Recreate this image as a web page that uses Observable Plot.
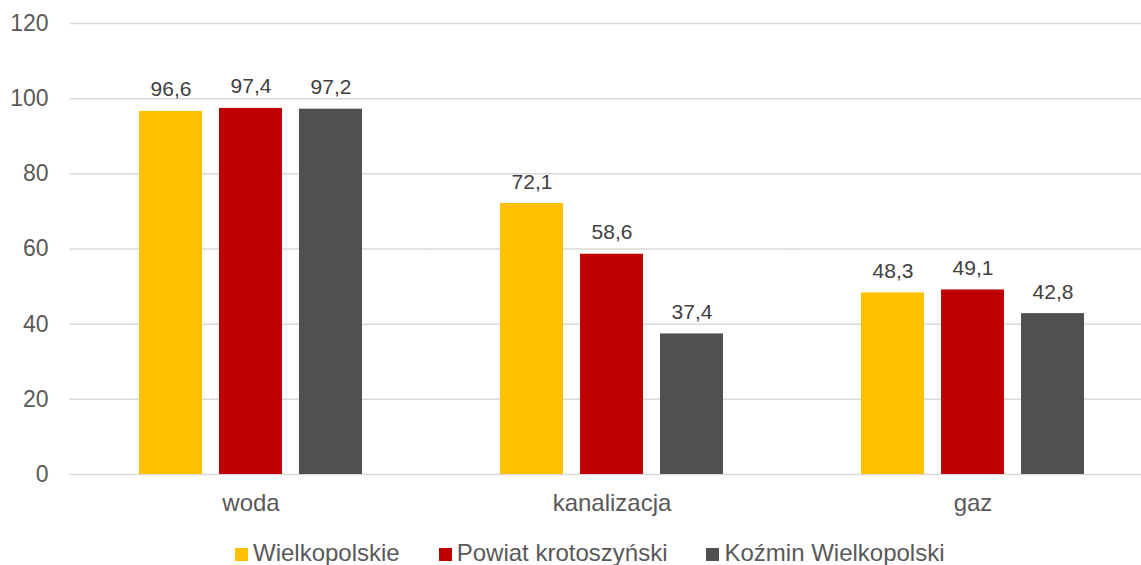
<!DOCTYPE html>
<html>
<head>
<meta charset="utf-8">
<script src="https://cdn.jsdelivr.net/npm/d3@7"></script>
<script src="https://cdn.jsdelivr.net/npm/@observablehq/plot@0.6"></script>
<style>
  html, body { margin: 0; padding: 0; background: #fff; overflow: hidden; }
  #wrap { position: relative; width: 1141px; height: 565px; overflow: hidden; font-family: "Liberation Sans", Arial, sans-serif; }
  #chart svg { max-width: none !important; }
  #legend { position: absolute; left: 235px; top: 541px; display: flex; align-items: baseline; font-size: 24px; line-height: 24px; color: #595959; white-space: nowrap; }
  #legend .item { display: flex; align-items: baseline; margin-right: 39px; }
  #legend .sw { display: inline-block; width: 13px; height: 13px; margin-right: 5px; margin-bottom: 3px; }
</style>
</head>
<body>
<div id="wrap"><div id="chart"></div><div id="legend"></div></div>
<script>
const categories = ["woda", "kanalizacja", "gaz"];
const series = ["Wielkopolskie", "Powiat krotoszyński", "Koźmin Wielkopolski"];
const colors = ["#FFC000", "#C00000", "#505050"];
const wielkopolskie = [96.6, 72.1, 48.3];
const powiat = [97.4, 58.6, 49.1];
const kozmin = [97.2, 37.4, 42.8];
const yTicks = [0, 20, 40, 60, 80, 100, 120];

const valuesBySeries = [wielkopolskie, powiat, kozmin];
const data = [];
categories.forEach((c, ci) => {
  series.forEach((s, si) => {
    data.push({category: c, series: s, value: valuesBySeries[si][ci]});
  });
});
const fmt = v => v.toFixed(1).replace(".", ",");

const chart = Plot.plot({
  width: 1153,
  height: 530,
  marginLeft: 70,
  marginRight: 0,
  marginTop: 23,
  marginBottom: 56,
  style: {fontFamily: '"Liberation Sans", Arial, sans-serif', color: "#595959", background: "#fff", overflow: "visible", maxWidth: "none"},
  fx: {domain: categories, paddingInner: 0.3823, paddingOuter: 0.191, label: null},
  x: {domain: series, paddingInner: 0.2125, paddingOuter: 0, axis: null},
  y: {domain: [0, 120], ticks: yTicks, label: null},
  color: {domain: series, range: colors},
  marks: [
    Plot.ruleY(yTicks, {stroke: "#d9d9d9", strokeWidth: 1.5, insetLeft: -69.5, insetRight: -69.5}),
    Plot.barY(data, {fx: "category", x: "series", y: "value", fill: "series"}),
    Plot.text(data, {fx: "category", x: "series", y: "value", text: d => fmt(d.value), dy: -15, lineAnchor: "bottom", fill: "#404040", fontSize: 21}),
    Plot.axisY(yTicks, {tickSize: 0, tickPadding: 91, fontSize: 23, fill: "#595959", label: null}),
    Plot.axisFx({anchor: "bottom", tickSize: 0, tickPadding: 19, fontSize: 24, fill: "#595959", label: null})
  ]
});
document.getElementById("chart").appendChild(chart);

const legend = document.getElementById("legend");
series.forEach((s, i) => {
  const item = document.createElement("div");
  item.className = "item";
  const sw = document.createElement("span");
  sw.className = "sw";
  sw.style.background = colors[i];
  const t = document.createElement("span");
  t.textContent = s;
  item.appendChild(sw);
  item.appendChild(t);
  legend.appendChild(item);
});
</script>
</body>
</html>
